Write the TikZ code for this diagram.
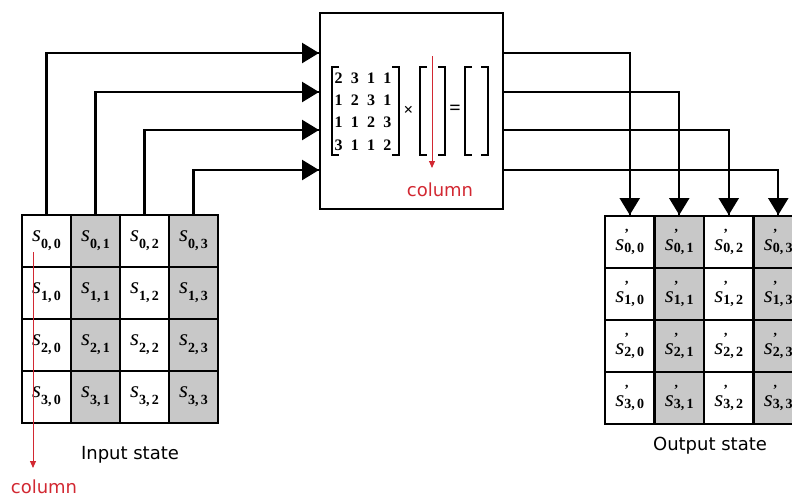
\documentclass[tikz,border=0pt]{standalone}
\usepackage{fontspec}
\setmainfont{Liberation Serif}
\newfontfamily\labelfont{DejaVu Sans}
\usetikzlibrary{positioning}
\usetikzlibrary{arrows.meta}
\usetikzlibrary{decorations.markings}
\definecolor{cellgray}{RGB}{200,200,200}
\definecolor{colred}{RGB}{210,40,50}
\tikzset{flow/.style = {line width=2.4pt,
                        decoration={markings,
                                    mark=at position 1
                                    with {\arrow{Triangle[width=20pt,length=17pt]}}},
                        postaction={decorate}}}
\tikzset{cell/.style = {draw, line width=2pt, minimum width=49pt, minimum height=52pt,
                        inner sep=0, font=\fontsize{23}{23}\selectfont}}
\tikzset{redarrow/.style = {colred, line width=0.9pt, -{Triangle[width=6pt,length=7pt]}}}
\tikzset{caption/.style = {font=\labelfont\fontsize{18}{18}\selectfont}}
\tikzset{digit/.style = {font=\bfseries\fontsize{16}{16}\selectfont, inner sep=0}}
\tikzset{bracket/.style = {line width=1.4pt}}
\newcommand{\scell}[2]{{\itshape s}\raisebox{-7pt}{\fontsize{14}{14}\selectfont\bfseries #1,\,#2}}
\newcommand{\scellp}[2]{{\itshape s}\raisebox{-2pt}{\fontsize{14}{14}\selectfont\bfseries
  \rlap{\raisebox{14pt}{\fontsize{14}{14}\selectfont '}}#1,\,#2}}

\begin{document}
\begin{tikzpicture}[x=1pt, y=-1pt]
      \useasboundingbox (0,0) rectangle (792,498);

      % mixing box
      \node[draw, line width=2pt, minimum width=183pt, minimum height=196pt] (mix) at (411.5,111) {};

      % state cells
      \foreach \r in {0,...,3} {
        \foreach \c in {0,...,3} {
          \pgfmathsetmacro{\shade}{mod(\c,2)==1 ? "cellgray" : "white"}
          \node[cell, fill=\shade] (in\r\c) at (46.5+49*\c, 241+52*\r) {\scell{\r}{\c}};
          \node[cell, fill=\shade] (out\r\c) at (629.75+49.5*\c, 242+52*\r) {\scellp{\r}{\c}};
        }
      }

      % connectors
      \foreach \c/\y in {0/53, 1/92, 2/130, 3/170} {
        \coordinate (mixin\c) at (mix.west |- 0,\y);
        \coordinate (mixout\c) at (mix.east |- 0,\y);
        \draw[flow] (in0\c.north) |- (mixin\c);
        \draw[flow] (mixout\c) -| (out0\c.north);
      }

      % matrix product
      \foreach \row [count=\r from 0] in {{2,3,1,1},{1,2,3,1},{1,1,2,3},{3,1,1,2}} {
        \foreach \d [count=\c from 0] in \row {
          \node[digit] (m\r\c) at (338.5+16.3*\c, 78+22.3*\r) {\d};
        }
      }
      \draw[bracket] (339,67) -| (332,155) -- (339,155);
      \draw[bracket] (392,67) -| (399,155) -- (392,155);
      \draw[bracket] (427,67) -| (420,155) -- (427,155);
      \draw[bracket] (438,67) -| (445,155) -- (438,155);
      \draw[bracket] (472,67) -| (465,155) -- (472,155);
      \draw[bracket] (481,67) -| (488,155) -- (481,155);
      \node[digit, font=\bfseries\fontsize{17}{17}\selectfont] (times) at (408.5,111) {×};
      \node[digit, font=\bfseries\fontsize{20}{20}\selectfont] (equals) at (455,110) {=};

      % column hints
      \coordinate (colA) at (432,56);
      \coordinate (colB) at (432,168);
      \draw[redarrow] (colA) -- (colB);
      \node[caption, colred] (coltop) at (440,190) {column};
      \coordinate (colC) at (33,252);
      \coordinate (colD) at (33,468);
      \draw[redarrow] (colC) -- (colD);
      \node[caption, colred] (colbot) at (44,487) {column};

      \node[caption] (instate) at (130,455) {Input state};
      \node[caption] (outstate) at (710,446) {Output state};
    \end{tikzpicture}
\end{document}
